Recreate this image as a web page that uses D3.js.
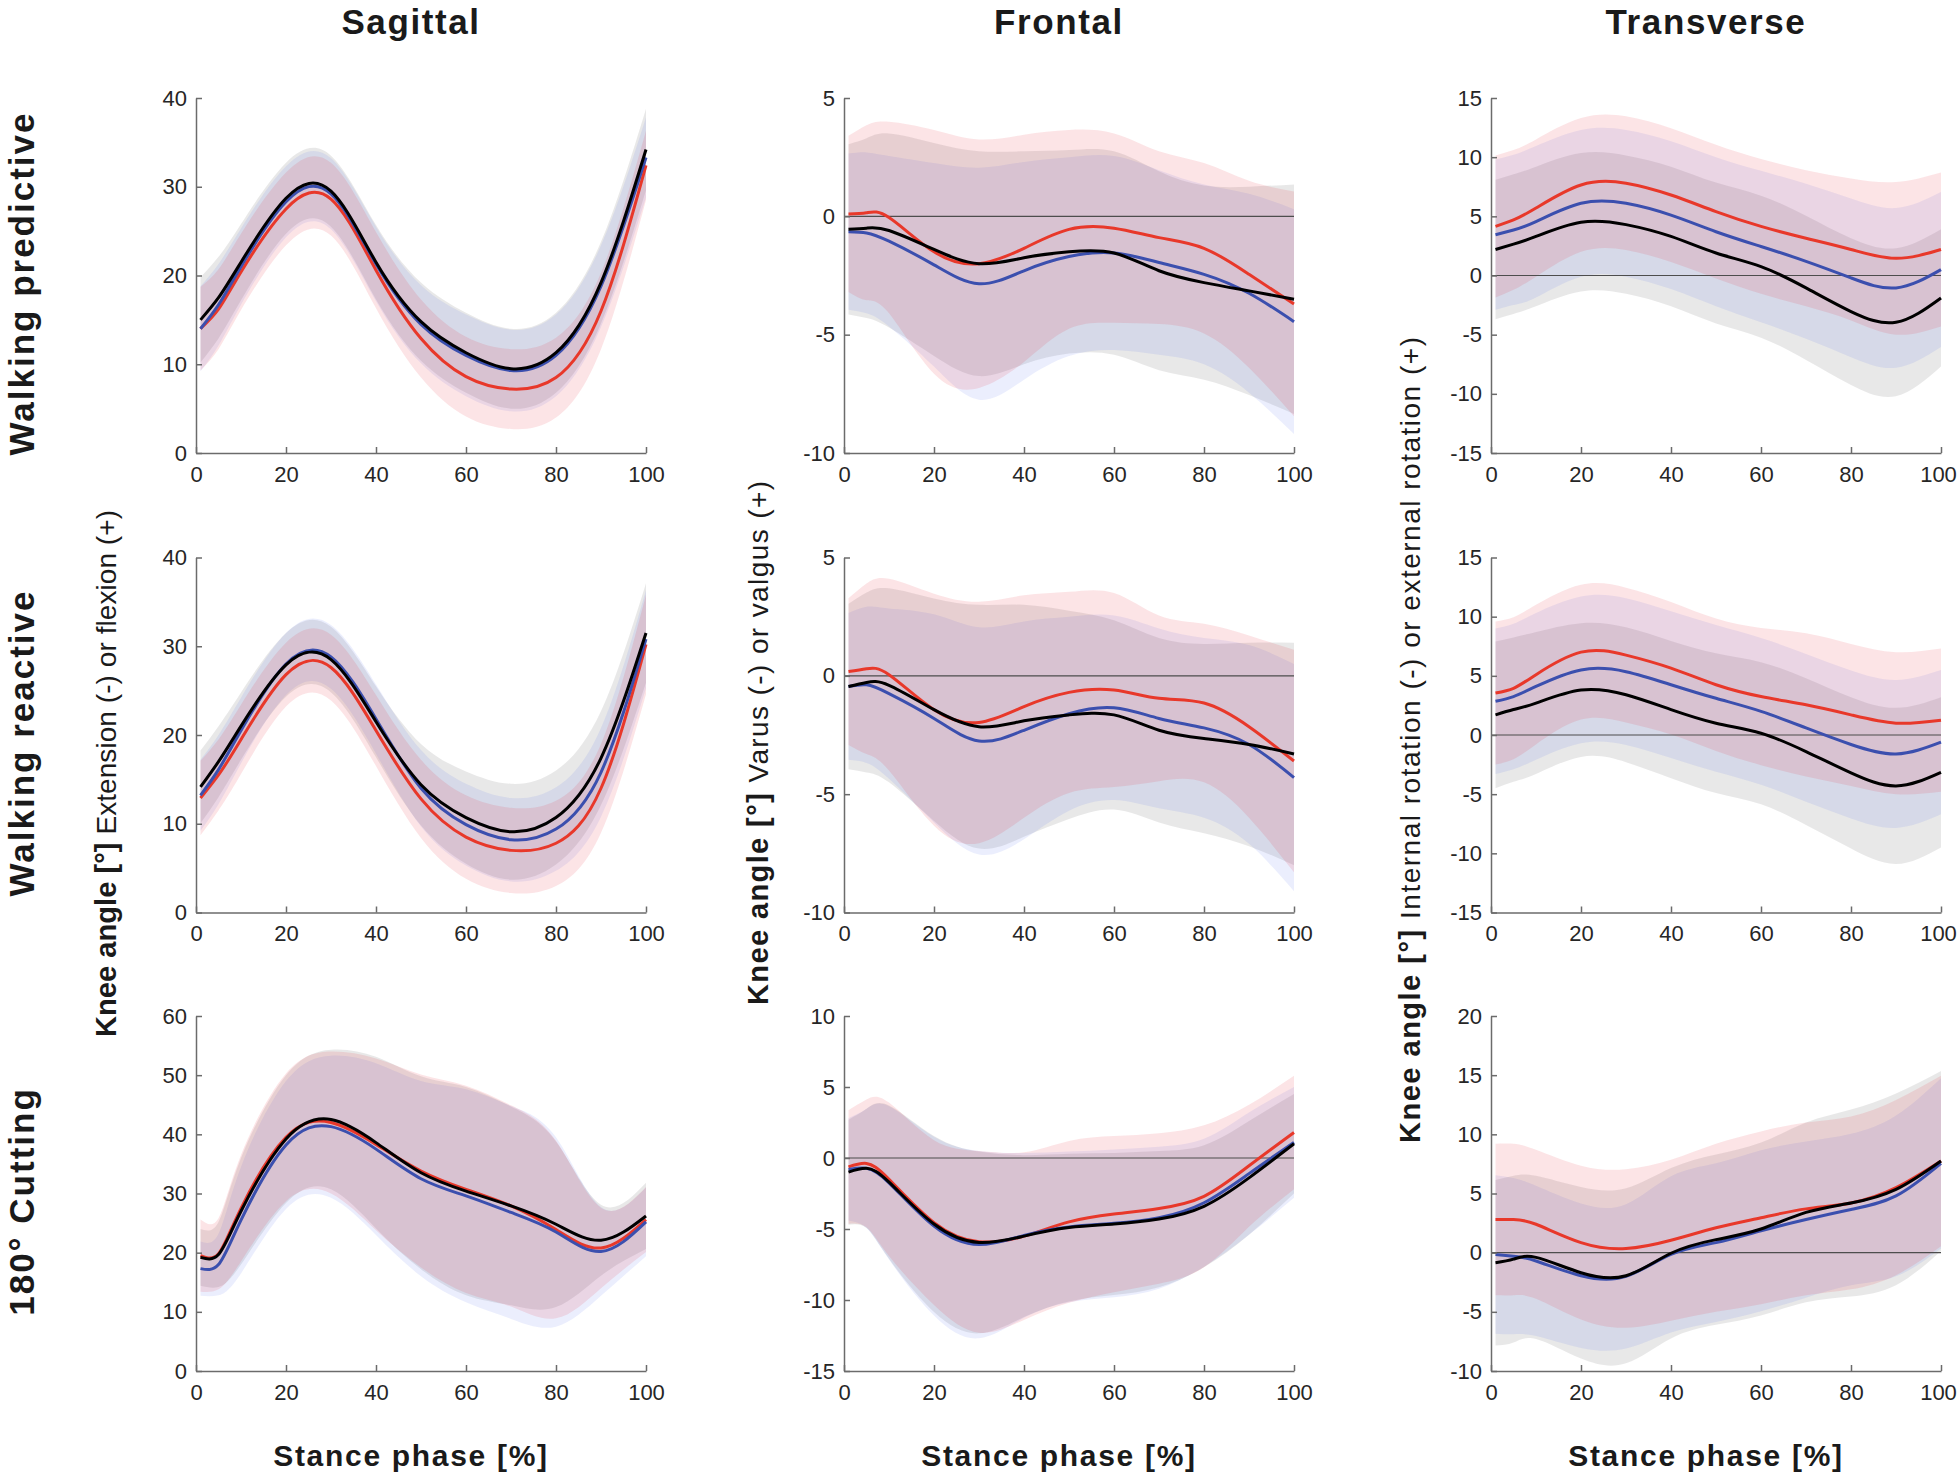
<!DOCTYPE html>
<meta charset="utf-8">
<style>
body { margin: 0; background: #fff; }
text { font-family: 'Liberation Sans', Arial, sans-serif; fill: #1a1a1a; }
.tick text { fill: #262626; }
</style>
<body>
<div id="chart"></div>
<script src="https://d3js.org/d3.v7.min.js"></script>
<script>

// stance phase sample points [%]
var xs = [1, 5, 10, 20, 30, 40, 50, 60, 70, 80, 90, 100];

// ---- Walking predictive ----
var predSagRed     = [14, 16.2, 20.4, 27.5, 28.6, 20.6, 12.9, 8.6, 7.2, 8.5, 16, 32.4];
var predSagRedSd   = [4.7, 4.5, 4.3, 4.1, 4.1, 4.3, 4.4, 4.5, 4.5, 4.5, 4.3, 3.9];
var predSagBlue    = [14, 16.7, 21, 28.3, 29.2, 21.3, 14.5, 11, 9.3, 11, 18.8, 33.3];
var predSagBlueSd  = [4.8, 4.6, 4.3, 4.0, 4.0, 4.2, 4.4, 4.6, 4.6, 4.6, 4.6, 4.5];
var predSagBlack   = [15, 17.5, 21.5, 28.7, 29.5, 21.5, 14.8, 11.3, 9.5, 11.3, 19.2, 34.2];
var predSagBlackSd = [4.8, 4.6, 4.3, 4.0, 4.0, 4.2, 4.4, 4.5, 4.5, 4.5, 4.6, 4.6];

var predFroRed     = [0.1, 0.15, -0.05, -1.5, -2.0, -1.35, -0.55, -0.5, -0.9, -1.35, -2.45, -3.7];
var predFroRedSd   = [3.3, 3.7, 4.05, 5.15, 5.25, 4.8, 4.2, 4.0, 3.65, 3.6, 3.95, 4.75];
var predFroBlue    = [-0.65, -0.7, -1.05, -2.05, -2.85, -2.3, -1.7, -1.55, -1.95, -2.45, -3.25, -4.45];
var predFroBlueSd  = [3.3, 3.4, 3.6, 4.3, 4.9, 4.6, 4.2, 4.1, 3.9, 3.8, 4.2, 4.75];
var predFroBlack   = [-0.55, -0.5, -0.6, -1.4, -2.0, -1.75, -1.5, -1.55, -2.3, -2.8, -3.15, -3.5];
var predFroBlackSd = [3.6, 3.8, 4.1, 4.5, 4.75, 4.5, 4.3, 4.3, 4.2, 4.1, 4.4, 4.85];

var predTraRed     = [4.15, 4.7, 5.7, 7.65, 7.8, 6.8, 5.4, 4.15, 3.15, 2.2, 1.45, 2.2];
var predTraRedSd   = [6.0, 5.9, 5.8, 5.65, 5.65, 5.65, 5.65, 5.7, 5.75, 6.0, 6.45, 6.5];
var predTraBlue    = [3.45, 3.85, 4.55, 6.1, 6.1, 5.1, 3.7, 2.45, 1.2, -0.2, -1.05, 0.5];
var predTraBlueSd  = [6.35, 6.35, 6.4, 6.2, 6.2, 6.25, 6.3, 6.4, 6.55, 6.7, 6.75, 6.55];
var predTraBlack   = [2.2, 2.65, 3.3, 4.5, 4.3, 3.3, 1.9, 0.75, -1.05, -3.05, -3.95, -1.9];
var predTraBlackSd = [5.9, 5.9, 5.9, 5.85, 5.85, 5.9, 5.95, 6.0, 6.1, 6.2, 6.25, 5.8];

// ---- Walking reactive ----
var reacSagRed     = [12.9, 15.5, 19.5, 26.8, 27.6, 20.5, 12.8, 8.5, 7.0, 7.8, 14.0, 30.2];
var reacSagRedSd   = [4.2, 4.0, 3.9, 3.6, 3.7, 4.0, 4.4, 4.7, 4.8, 4.8, 5.0, 5.6];
var reacSagBlue    = [13.2, 16.1, 20.5, 28.0, 28.8, 21.8, 14.0, 9.9, 8.2, 9.4, 15.8, 30.8];
var reacSagBlueSd  = [4.0, 3.9, 3.7, 3.5, 3.6, 3.9, 4.3, 4.6, 4.7, 4.7, 5.0, 5.5];
var reacSagBlack   = [14.15, 17.0, 21, 27.9, 28.5, 21.5, 14.4, 10.7, 9.1, 10.7, 17.4, 31.5];
var reacSagBlackSd = [4.1, 4.0, 3.8, 3.6, 3.7, 4.0, 4.6, 5.2, 5.4, 5.3, 5.3, 5.6];

var reacFroRed     = [0.18, 0.3, 0.05, -1.43, -1.97, -1.3, -0.7, -0.6, -0.95, -1.15, -2.15, -3.6];
var reacFroRedSd   = [3.1, 3.6, 4.05, 4.9, 5.1, 4.7, 4.25, 4.1, 3.5, 3.35, 3.85, 4.7];
var reacFroBlue    = [-0.45, -0.38, -0.75, -1.8, -2.75, -2.3, -1.6, -1.35, -1.8, -2.2, -2.9, -4.3];
var reacFroBlueSd  = [3.1, 3.3, 3.6, 4.4, 4.8, 4.6, 4.1, 3.9, 3.8, 3.8, 4.2, 4.8];
var reacFroBlack   = [-0.45, -0.28, -0.4, -1.43, -2.15, -1.9, -1.65, -1.65, -2.3, -2.65, -2.9, -3.3];
var reacFroBlackSd = [3.5, 3.8, 4.1, 4.7, 5.15, 4.9, 4.4, 4.0, 3.9, 4.0, 4.3, 4.7];

var reacTraRed     = [3.55, 3.95, 5.1, 7.0, 6.75, 5.65, 4.25, 3.25, 2.55, 1.7, 1.0, 1.25];
var reacTraRedSd   = [6.05, 6.0, 5.9, 5.7, 5.7, 5.6, 5.6, 5.8, 6.05, 6.0, 6.0, 6.05];
var reacTraBlue    = [2.85, 3.25, 4.1, 5.5, 5.35, 4.25, 3.1, 2.0, 0.6, -0.8, -1.6, -0.6];
var reacTraBlueSd  = [6.15, 6.15, 6.2, 6.2, 6.2, 6.2, 6.2, 6.2, 6.25, 6.25, 6.25, 6.1];
var reacTraBlack   = [1.7, 2.15, 2.7, 3.8, 3.4, 2.15, 1.0, 0.15, -1.4, -3.2, -4.3, -3.15];
var reacTraBlackSd = [6.2, 6.1, 6.0, 5.65, 5.7, 5.8, 5.9, 6.0, 6.2, 6.4, 6.6, 6.35];

// ---- 180° cutting ----
var cutSagRed      = [19.5, 19.8, 27.5, 39.5, 42.0, 38.3, 33.8, 30.7, 27.9, 23.9, 20.8, 25.6];
var cutSagRedSd    = [6.1, 6.0, 9.0, 10.8, 12.0, 14.5, 16.3, 17.5, 17.0, 15.0, 6.8, 5.5];
var cutSagBlue     = [17.3, 18.0, 25.5, 38.2, 41.3, 37.5, 32.5, 29.6, 26.8, 23.5, 20.2, 25.2];
var cutSagBlueSd   = [4.6, 5.2, 9.0, 10.8, 12.0, 14.5, 16.5, 18.0, 18.0, 16.0, 7.5, 5.8];
var cutSagBlack    = [19.2, 19.7, 27.0, 39.2, 42.5, 38.6, 33.5, 30.4, 27.9, 24.8, 22.1, 26.2];
var cutSagBlackSd  = [4.8, 5.5, 9.0, 10.8, 11.8, 14.5, 16.3, 17.6, 16.8, 14.0, 6.0, 5.6];

var cutFroRed      = [-0.63, -0.38, -1.5, -4.55, -5.9, -5.5, -4.5, -3.95, -3.55, -2.7, -0.55, 1.8];
var cutFroRedSd    = [4.0, 4.5, 5.4, 5.8, 6.4, 5.9, 5.7, 5.5, 5.3, 5.0, 4.3, 4.0];
var cutFroBlue     = [-0.8, -0.73, -1.75, -4.8, -6.1, -5.45, -4.85, -4.6, -4.2, -3.15, -1.1, 1.1];
var cutFroBlueSd   = [3.6, 4.2, 5.4, 6.3, 6.6, 5.8, 5.3, 5.2, 5.0, 4.5, 4.3, 3.9];
var cutFroBlack    = [-1.0, -0.73, -1.7, -4.65, -5.95, -5.5, -4.9, -4.65, -4.3, -3.4, -1.4, 1.0];
var cutFroBlackSd  = [3.7, 4.2, 5.4, 6.2, 6.4, 5.7, 5.2, 5.0, 4.8, 4.3, 4.0, 3.5];

var cutTraRed      = [2.8, 2.8, 2.4, 0.85, 0.35, 1.05, 2.1, 2.95, 3.7, 4.2, 5.5, 7.75];
var cutTraRedSd    = [6.4, 6.4, 6.3, 6.5, 6.7, 6.8, 7.1, 7.3, 7.3, 7.3, 7.4, 7.2];
var cutTraBlue     = [-0.15, -0.3, -0.7, -1.95, -2.0, -0.15, 0.85, 1.85, 2.8, 3.65, 4.8, 7.55];
var cutTraBlueSd   = [6.7, 6.6, 6.35, 6.1, 6.1, 6.6, 6.7, 6.8, 6.6, 6.4, 6.8, 7.2];
var cutTraBlack    = [-0.85, -0.55, -0.4, -1.7, -1.95, -0.05, 1.1, 2.0, 3.4, 4.2, 5.35, 7.75];
var cutTraBlackSd  = [7.0, 7.05, 6.9, 7.25, 7.4, 7.2, 7.2, 7.3, 7.6, 7.9, 8.1, 7.6];

// tick labels
var ticksPct      = [0, 20, 40, 60, 80, 100];
var ticksSagWalk  = [0, 10, 20, 30, 40];
var ticksSagCut   = [0, 10, 20, 30, 40, 50, 60];
var ticksFroWalk  = [-10, -5, 0, 5];
var ticksFroCut   = [-15, -10, -5, 0, 5, 10];
var ticksTraWalk  = [-15, -10, -5, 0, 5, 10, 15];
var ticksTraCut   = [-10, -5, 0, 5, 10, 15, 20];

var colTitles = ["Sagittal", "Frontal", "Transverse"];
var rowTitles = ["Walking predictive", "Walking reactive", "180° Cutting"];
var yLabelRest = [" Extension (-) or flexion (+)", " Varus (-) or valgus (+)", " Internal rotation (-) or external rotation (+)"];

// layout
var width = 1958, height = 1475;
var colX = [196, 844, 1491], rowY = [98, 557.5, 1016];
var pw = 450, ph = 355;

var colors = {red: "#e8382a", blue: "#3b4fae", black: "#000000"};
var bandFill = {red: "rgb(230,30,47)", blue: "rgb(62,92,232)", black: "#000000"};
var bandAlpha = {red: 0.12, blue: 0.1, black: 0.09};

function ser(red, redSd, blue, blueSd, black, blackSd) {
  return [
    {key: "black", mean: black, sd: blackSd},
    {key: "blue", mean: blue, sd: blueSd},
    {key: "red", mean: red, sd: redSd}
  ];
}

var panels = [
  {row: 0, col: 0, ticks: ticksSagWalk, zero: false, series: ser(predSagRed, predSagRedSd, predSagBlue, predSagBlueSd, predSagBlack, predSagBlackSd)},
  {row: 0, col: 1, ticks: ticksFroWalk, zero: true,  series: ser(predFroRed, predFroRedSd, predFroBlue, predFroBlueSd, predFroBlack, predFroBlackSd)},
  {row: 0, col: 2, ticks: ticksTraWalk, zero: true,  series: ser(predTraRed, predTraRedSd, predTraBlue, predTraBlueSd, predTraBlack, predTraBlackSd)},
  {row: 1, col: 0, ticks: ticksSagWalk, zero: false, series: ser(reacSagRed, reacSagRedSd, reacSagBlue, reacSagBlueSd, reacSagBlack, reacSagBlackSd)},
  {row: 1, col: 1, ticks: ticksFroWalk, zero: true,  series: ser(reacFroRed, reacFroRedSd, reacFroBlue, reacFroBlueSd, reacFroBlack, reacFroBlackSd)},
  {row: 1, col: 2, ticks: ticksTraWalk, zero: true,  series: ser(reacTraRed, reacTraRedSd, reacTraBlue, reacTraBlueSd, reacTraBlack, reacTraBlackSd)},
  {row: 2, col: 0, ticks: ticksSagCut,  zero: false, series: ser(cutSagRed, cutSagRedSd, cutSagBlue, cutSagBlueSd, cutSagBlack, cutSagBlackSd)},
  {row: 2, col: 1, ticks: ticksFroCut,  zero: true,  series: ser(cutFroRed, cutFroRedSd, cutFroBlue, cutFroBlueSd, cutFroBlack, cutFroBlackSd)},
  {row: 2, col: 2, ticks: ticksTraCut,  zero: true,  series: ser(cutTraRed, cutTraRedSd, cutTraBlue, cutTraBlueSd, cutTraBlack, cutTraBlackSd)}
];

var svg = d3.select("#chart").append("svg")
    .attr("width", width)
    .attr("height", height);

var x = d3.scaleLinear().domain([0, 100]).range([0, pw]);
var curve = d3.curveNatural;

panels.forEach(function(p) {
  var y = d3.scaleLinear().domain([p.ticks[0], p.ticks[p.ticks.length - 1]]).range([ph, 0]);
  var g = svg.append("g").attr("transform", "translate(" + colX[p.col] + "," + rowY[p.row] + ")");

  // shaded bands (mean +/- sd)
  p.series.forEach(function(s) {
    var area = d3.area()
        .x(function(d, i) { return x(xs[i]); })
        .y0(function(d, i) { return y(s.mean[i] - s.sd[i]); })
        .y1(function(d, i) { return y(s.mean[i] + s.sd[i]); })
        .curve(curve);
    g.append("path")
      .datum(s.mean)
      .attr("d", area)
      .attr("fill", bandFill[s.key])
      .attr("fill-opacity", bandAlpha[s.key]);
  });

  if (p.zero) {
    g.append("line")
      .attr("x1", 0).attr("x2", pw)
      .attr("y1", y(0)).attr("y2", y(0))
      .attr("stroke", "#4d4d4d")
      .attr("stroke-width", 1.2);
  }

  // mean curves: red, blue, then black on top
  ["red", "blue", "black"].forEach(function(k) {
    var s = p.series.filter(function(d) { return d.key === k; })[0];
    var line = d3.line()
        .x(function(d, i) { return x(xs[i]); })
        .y(function(d) { return y(d); })
        .curve(curve);
    g.append("path")
      .datum(s.mean)
      .attr("d", line)
      .attr("fill", "none")
      .attr("stroke", colors[k])
      .attr("stroke-width", 3);
  });

  // axes, MATLAB style ticks pointing inward
  var xAxis = d3.axisBottom(x).tickValues(ticksPct).tickSizeInner(-6).tickSizeOuter(0).tickPadding(13)
      .tickFormat(function(d) { return String(d); });
  var yAxis = d3.axisLeft(y).tickValues(p.ticks).tickSizeInner(-6).tickSizeOuter(0).tickPadding(9)
      .tickFormat(function(d) { return String(d); });

  var gx = g.append("g").attr("transform", "translate(0," + ph + ")").call(xAxis);
  var gy = g.append("g").call(yAxis);
  [gx, gy].forEach(function(a) {
    a.select(".domain").attr("stroke", "#6b6b6b").attr("stroke-width", 1.5);
    a.selectAll(".tick line").attr("stroke", "#6b6b6b").attr("stroke-width", 1.5);
    a.selectAll(".tick text").attr("font-size", 22).attr("font-family", "'Liberation Sans', Arial, sans-serif");
  });
  // last x label of the right column sits on the page edge; nudge it inside
  if (p.col === 2) {
    gx.selectAll(".tick text").filter(function(d) { return d === 100; }).attr("dx", -3);
  }
});

// column titles and x labels
colTitles.forEach(function(t, c) {
  var cx = colX[c] + pw / 2 - 10;
  svg.append("text")
    .attr("x", cx).attr("y", 34)
    .attr("text-anchor", "middle")
    .attr("font-size", 35).attr("font-weight", "bold")
    .attr("letter-spacing", 1.6)
    .text(t);
  svg.append("text")
    .attr("x", cx).attr("y", 1466)
    .attr("text-anchor", "middle")
    .attr("font-size", 30).attr("font-weight", "bold")
    .attr("letter-spacing", 1.7)
    .text("Stance phase [%]");
});

// row titles
rowTitles.forEach(function(t, r) {
  var cy = rowY[r] + ph / 2 + 8;
  svg.append("text")
    .attr("transform", "translate(34," + cy + ") rotate(-90)")
    .attr("text-anchor", "middle")
    .attr("font-size", 35).attr("font-weight", "bold")
    .attr("letter-spacing", 2)
    .text(t);
});

// y labels, stretched to the lengths seen in the figure
var yLabX = [116, 768, 1420], yLabBottom = [1037, 1005, 1143], yLabLen = [527, 524, 806];
yLabelRest.forEach(function(rest, c) {
  var t = svg.append("text")
    .attr("transform", "translate(" + yLabX[c] + "," + yLabBottom[c] + ") rotate(-90)")
    .attr("text-anchor", "start")
    .attr("textLength", yLabLen[c])
    .attr("lengthAdjust", "spacing");
  t.append("tspan").attr("font-size", 29).attr("font-weight", "bold").text("Knee angle [°]");
  t.append("tspan").attr("font-size", 28).text(rest);
});

</script>
</body>
